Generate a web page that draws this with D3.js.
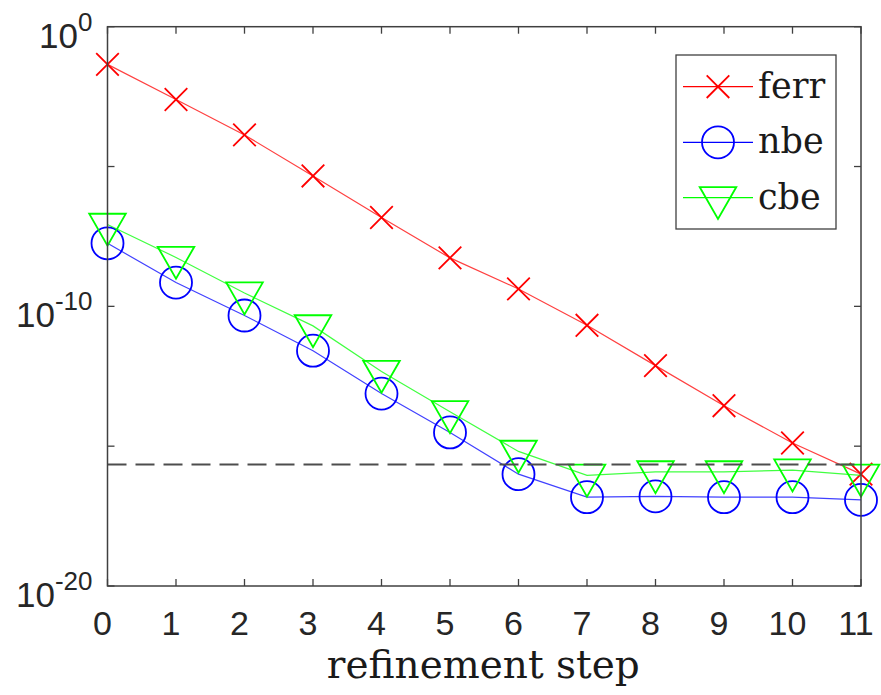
<!DOCTYPE html>
<html lang="en">
<head>
  <meta charset="UTF-8">
  <title>Refinement step errors</title>
  <script src="https://d3js.org/d3.v7.min.js"></script>
  <style>
    body { margin: 0; background: #fff; }
    .serif { font-family: "DejaVu Serif", "Liberation Serif", serif; }
  </style>
</head>
<body>
<div id="chart"></div>
<script>
  // refinement steps and series values
  var steps = [0, 1, 2, 3, 4, 5, 6, 7, 8, 9, 10, 11];
  var ferr = [4.5e-2, 2.5e-3, 1.35e-4, 4.6e-6, 1.5e-7, 5.4e-9, 4.2e-10, 2.1e-11, 7.6e-13, 2.8e-14, 1.3e-15, 1.0e-16];
  var nbe  = [1.8e-8, 7.1e-10, 4.7e-11, 2.6e-12, 7.6e-14, 3.1e-15, 1.0e-16, 1.5e-17, 1.6e-17, 1.5e-17, 1.5e-17, 1.2e-17];
  var cbe  = [8.5e-8, 5.6e-9, 3.0e-10, 2.0e-11, 4.7e-13, 1.7e-14, 6.5e-16, 9.1e-17, 1.2e-16, 1.2e-16, 1.4e-16, 9.1e-17];
  var epsLevel = 2.2e-16;
  var yTicks = [1e-20, 1e-15, 1e-10, 1e-5, 1];
  var yLabelExps = [-20, -10, 0];

  var sansFont = "Liberation Sans, Arial, sans-serif";

  var width = 881, height = 695;
  var margin = { top: 26.7, left: 107.5 };
  var w = 861 - margin.left, h = 586 - margin.top;

  var svg = d3.select("#chart").append("svg")
    .attr("width", width)
    .attr("height", height);

  var g = svg.append("g")
    .attr("transform", "translate(" + margin.left + "," + margin.top + ")");

  var x = d3.scaleLinear().domain([0, 11]).range([0, w]);
  var y = d3.scaleLog().domain([1e-20, 1]).range([h, 0]);

  var axisColor = "#404040";

  var series = [
    { name: "ferr", values: ferr, color: "#ff0000", marker: "x" },
    { name: "nbe", values: nbe, color: "#0000ff", marker: "o" },
    { name: "cbe", values: cbe, color: "#00ff00", marker: "v" }
  ];

  var line = d3.line()
    .x(function(d) { return x(d[0]); })
    .y(function(d) { return y(d[1]); });

  function drawMarker(sel, type, color) {
    if (type === "x") {
      var s = 11.3;
      sel.append("path")
        .attr("d", "M" + -s + "," + -s + "L" + s + "," + s + "M" + -s + "," + s + "L" + s + "," + -s)
        .attr("stroke", color).attr("stroke-width", 1.8).attr("fill", "none");
    } else if (type === "o") {
      sel.append("circle").attr("r", 16)
        .attr("stroke", color).attr("stroke-width", 1.8).attr("fill", "none");
    } else {
      var hw = 18.3, th = 32;
      sel.append("path")
        .attr("d", "M" + -hw + "," + (-th / 3) + "L" + hw + "," + (-th / 3) + "L0," + (2 * th / 3) + "Z")
        .attr("stroke", color).attr("stroke-width", 1.8).attr("fill", "none");
    }
  }

  series.forEach(function(s) {
    var pts = steps.map(function(st, i) { return [st, s.values[i]]; });
    g.append("path")
      .datum(pts)
      .attr("fill", "none")
      .attr("stroke", s.color)
      .attr("stroke-opacity", 0.75)
      .attr("stroke-width", 1.2)
      .attr("d", line);
    pts.forEach(function(p) {
      var m = g.append("g")
        .attr("transform", "translate(" + x(p[0]) + "," + y(p[1]) + ")");
      drawMarker(m, s.marker, s.color);
    });
  });

  // machine epsilon reference line
  g.append("line")
    .attr("x1", 0).attr("x2", w)
    .attr("y1", y(epsLevel)).attr("y2", y(epsLevel))
    .attr("stroke", "#4d4d4d")
    .attr("stroke-width", 2)
    .attr("stroke-dasharray", "19,9");

  // box with inward ticks
  g.append("rect")
    .attr("width", w).attr("height", h)
    .attr("fill", "none")
    .attr("stroke", axisColor)
    .attr("stroke-width", 1.5);

  var tl = 7;
  steps.forEach(function(st) {
    g.append("line").attr("x1", x(st)).attr("x2", x(st)).attr("y1", h).attr("y2", h - tl)
      .attr("stroke", axisColor).attr("stroke-width", 1.3);
    g.append("line").attr("x1", x(st)).attr("x2", x(st)).attr("y1", 0).attr("y2", tl)
      .attr("stroke", axisColor).attr("stroke-width", 1.3);
    g.append("text")
      .attr("x", x(st) - 5)
      .attr("y", h + 49)
      .attr("text-anchor", "middle")
      .attr("font-family", sansFont)
      .attr("font-size", 34)
      .attr("fill", "#262626")
      .text(st);
  });

  yTicks.forEach(function(t) {
    g.append("line").attr("x1", 0).attr("x2", tl).attr("y1", y(t)).attr("y2", y(t))
      .attr("stroke", axisColor).attr("stroke-width", 1.3);
    g.append("line").attr("x1", w).attr("x2", w - tl).attr("y1", y(t)).attr("y2", y(t))
      .attr("stroke", axisColor).attr("stroke-width", 1.3);
  });

  yLabelExps.forEach(function(e) {
    var ty = y(Math.pow(10, e));
    var t = g.append("text")
      .attr("x", -15)
      .attr("y", ty + 21)
      .attr("text-anchor", "end")
      .attr("font-family", sansFont)
      .attr("font-size", 35)
      .attr("fill", "#262626");
    t.append("tspan").text("10");
    t.append("tspan")
      .attr("dy", -17)
      .attr("font-size", 26)
      .text(e === 0 ? "0" : "-" + Math.abs(e));
  });

  // x axis title
  g.append("text")
    .attr("class", "serif")
    .attr("x", w / 2 - 1)
    .attr("y", h + 92)
    .attr("text-anchor", "middle")
    .attr("font-size", 39)
    .attr("fill", "#1a1a1a")
    .text("refinement step");

  // legend
  var legend = svg.append("g").attr("transform", "translate(676,55)");
  legend.append("rect")
    .attr("width", 160).attr("height", 174)
    .attr("fill", "#fff")
    .attr("stroke", axisColor)
    .attr("stroke-width", 1.3);

  var legendY = [31.7, 87.3, 142.7];
  series.forEach(function(s, i) {
    var row = legend.append("g").attr("transform", "translate(0," + legendY[i] + ")");
    row.append("line").attr("x1", 7).attr("x2", 77).attr("y1", 0).attr("y2", 0)
      .attr("stroke", s.color).attr("stroke-width", 1.2);
    var m = row.append("g").attr("transform", "translate(42,0)");
    drawMarker(m, s.marker, s.color);
    row.append("text")
      .attr("class", "serif")
      .attr("x", 82)
      .attr("y", 11)
      .attr("font-size", 35)
      .attr("fill", "#1a1a1a")
      .text(s.name);
  });
</script>
</body>
</html>
